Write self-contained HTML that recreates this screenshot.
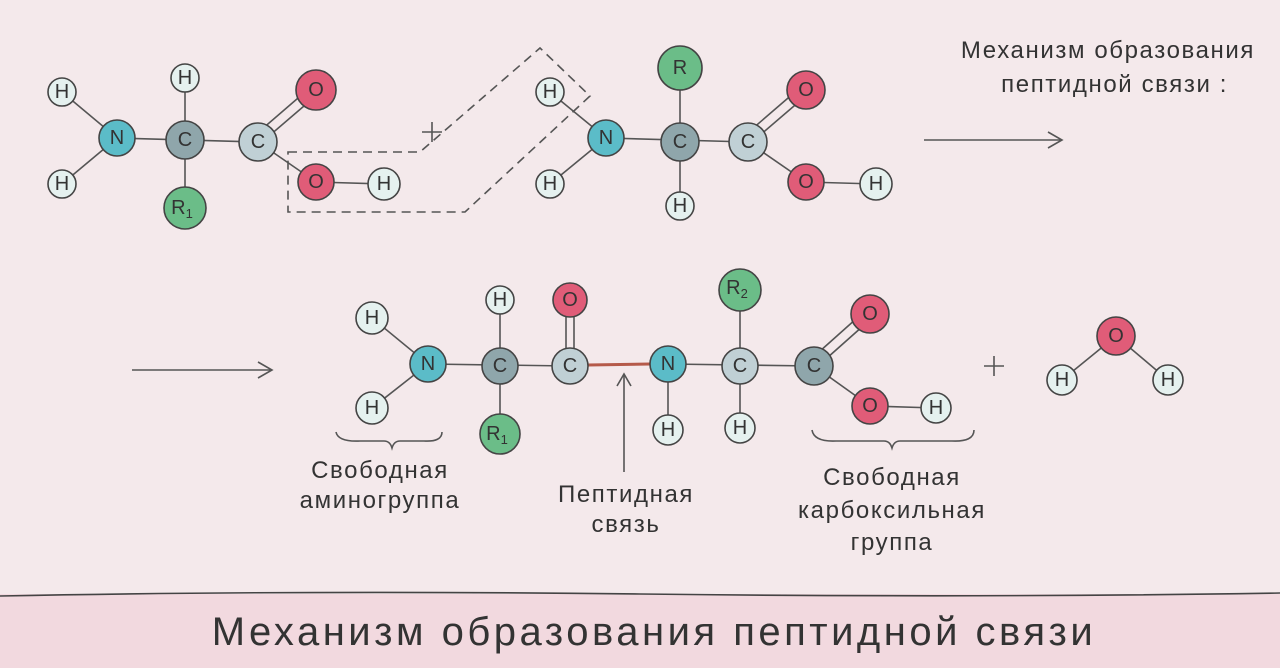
<!DOCTYPE html>
<html><head><meta charset="utf-8"><style>
html,body{margin:0;padding:0;background:#f4e9eb}
svg{display:block}
text{font-family:"Liberation Sans","DejaVu Sans",sans-serif;fill:#333}
.a text{text-anchor:middle;dominant-baseline:central}
</style></head><body>
<svg width="1280" height="668" viewBox="0 0 1280 668" xmlns="http://www.w3.org/2000/svg">
<rect width="1280" height="668" fill="#f4e9eb"/>
<rect y="594" width="1280" height="74" fill="#f2d9df"/>
<path d="M0 596 Q300 590 640 594 T1280 593" stroke="#444" stroke-width="1.6" fill="none"/>
<text x="654" y="645" font-size="40" letter-spacing="3.5" text-anchor="middle" fill="#333">Механизм образования пептидной связи</text>

<g stroke="#555" stroke-width="1.6" fill="none">
<line x1="62" y1="92" x2="117" y2="138"/><line x1="62" y1="184" x2="117" y2="138"/>
<line x1="117" y1="138" x2="258" y2="142"/><line x1="185" y1="78" x2="185" y2="208"/>
<line x1="254" y1="136" x2="312" y2="86"/><line x1="262" y1="142" x2="318" y2="94"/>
<line x1="258" y1="142" x2="316" y2="182"/><line x1="316" y1="182" x2="384" y2="184"/>
<line x1="550" y1="92" x2="606" y2="138"/><line x1="550" y1="184" x2="606" y2="138"/>
<line x1="606" y1="138" x2="748" y2="142"/><line x1="680" y1="68" x2="680" y2="206"/>
<line x1="744" y1="136" x2="802" y2="86"/><line x1="752" y1="142" x2="808" y2="94"/>
<line x1="748" y1="142" x2="806" y2="182"/><line x1="806" y1="182" x2="876" y2="184"/>
<path d="M288 152 L420 152 L540 48 L590 96 L465 212 L288 212 Z" stroke-dasharray="9 6"/>
<line x1="432" y1="122" x2="432" y2="142"/><line x1="422" y1="132" x2="442" y2="132"/>
<line x1="924" y1="140" x2="1062" y2="140"/><path d="M1048 132 L1062 140 L1048 148"/>
<line x1="132" y1="370" x2="272" y2="370"/><path d="M258 362 L272 370 L258 378"/>
<line x1="372" y1="318" x2="428" y2="364"/><line x1="372" y1="408" x2="428" y2="364"/>
<line x1="428" y1="364" x2="570" y2="366"/><line x1="500" y1="300" x2="500" y2="434"/>
<line x1="566" y1="300" x2="566" y2="366"/><line x1="574" y1="300" x2="574" y2="366"/>
<line x1="668" y1="364" x2="814" y2="366"/><line x1="740" y1="290" x2="740" y2="428"/>
<line x1="668" y1="364" x2="668" y2="430"/>
<line x1="810" y1="360" x2="866" y2="310"/><line x1="818" y1="366" x2="872" y2="318"/>
<line x1="814" y1="366" x2="870" y2="406"/><line x1="870" y1="406" x2="936" y2="408"/>
<line x1="1116" y1="336" x2="1062" y2="380"/><line x1="1116" y1="336" x2="1168" y2="380"/>
<line x1="994" y1="356" x2="994" y2="376"/><line x1="984" y1="366" x2="1004" y2="366"/>
<line x1="624" y1="472" x2="624" y2="374"/><path d="M617 386 L624 374 L631 386"/>
<path d="M336 432 Q338 442 360 441 L384 441 Q390 441 392 448 Q394 441 400 441 L424 441 Q442 442 442 432"/>
<path d="M812 430 Q814 442 836 441 L884 441 Q890 441 892 448 Q894 441 900 441 L952 441 Q974 442 974 430"/>
</g>
<line x1="588" y1="365" x2="650" y2="364" stroke="#b55a4a" stroke-width="3"/>

<g class="a" stroke="#444" stroke-width="1.6">
<g fill="#e5f1ef"><circle cx="62" cy="92" r="14"/><circle cx="62" cy="184" r="14"/><circle cx="185" cy="78" r="14"/><circle cx="384" cy="184" r="16"/>
<circle cx="550" cy="92" r="14"/><circle cx="550" cy="184" r="14"/><circle cx="680" cy="206" r="14"/><circle cx="876" cy="184" r="16"/>
<circle cx="372" cy="318" r="16"/><circle cx="372" cy="408" r="16"/><circle cx="500" cy="300" r="14"/><circle cx="668" cy="430" r="15"/><circle cx="740" cy="428" r="15"/><circle cx="936" cy="408" r="15"/>
<circle cx="1062" cy="380" r="15"/><circle cx="1168" cy="380" r="15"/></g>
<g fill="#5bbcc8"><circle cx="117" cy="138" r="18"/><circle cx="606" cy="138" r="18"/><circle cx="428" cy="364" r="18"/><circle cx="668" cy="364" r="18"/></g>
<g fill="#8fa6ab"><circle cx="185" cy="140" r="19"/><circle cx="680" cy="142" r="19"/><circle cx="500" cy="366" r="18"/><circle cx="814" cy="366" r="19"/></g>
<g fill="#c0d0d5"><circle cx="258" cy="142" r="19"/><circle cx="748" cy="142" r="19"/><circle cx="570" cy="366" r="18"/><circle cx="740" cy="366" r="18"/></g>
<g fill="#e05c78"><circle cx="316" cy="90" r="20"/><circle cx="316" cy="182" r="18"/><circle cx="806" cy="90" r="19"/><circle cx="806" cy="182" r="18"/>
<circle cx="570" cy="300" r="17"/><circle cx="870" cy="314" r="19"/><circle cx="870" cy="406" r="18"/><circle cx="1116" cy="336" r="19"/></g>
<g fill="#6bbd88"><circle cx="185" cy="208" r="21"/><circle cx="680" cy="68" r="22"/><circle cx="500" cy="434" r="20"/><circle cx="740" cy="290" r="21"/></g>
</g>
<g class="a" font-size="20">
<text x="62" y="92">H</text><text x="62" y="184">H</text><text x="185" y="78">H</text><text x="384" y="184">H</text>
<text x="550" y="92">H</text><text x="550" y="184">H</text><text x="680" y="206">H</text><text x="876" y="184">H</text>
<text x="372" y="318">H</text><text x="372" y="408">H</text><text x="500" y="300">H</text><text x="668" y="430">H</text><text x="740" y="428">H</text><text x="936" y="408">H</text>
<text x="1062" y="380">H</text><text x="1168" y="380">H</text>
<text x="117" y="138">N</text><text x="606" y="138">N</text><text x="428" y="364">N</text><text x="668" y="364">N</text>
<text x="185" y="140">C</text><text x="680" y="142">C</text><text x="500" y="366">C</text><text x="814" y="366">C</text>
<text x="258" y="142">C</text><text x="748" y="142">C</text><text x="570" y="366">C</text><text x="740" y="366">C</text>
<text x="316" y="90">O</text><text x="316" y="182">O</text><text x="806" y="90">O</text><text x="806" y="182">O</text>
<text x="570" y="300">O</text><text x="870" y="314">O</text><text x="870" y="406">O</text><text x="1116" y="336">O</text>
<text x="680" y="68">R</text>
<text x="182" y="208">R<tspan font-size="13" dy="5">1</tspan></text>
<text x="497" y="434">R<tspan font-size="13" dy="5">1</tspan></text>
<text x="737" y="288">R<tspan font-size="13" dy="5">2</tspan></text>
</g>
<g font-size="24" letter-spacing="1.6">
<text x="1255" y="58" text-anchor="end">Механизм образования</text>
<text x="1228" y="92" text-anchor="end">пептидной связи :</text>
</g>
<g font-size="24" letter-spacing="1.6" text-anchor="middle">
<text x="380" y="478">Свободная</text><text x="380" y="508">аминогруппа</text>
<text x="626" y="502">Пептидная</text><text x="626" y="532">связь</text>
<text x="892" y="485">Свободная</text><text x="892" y="518">карбоксильная</text><text x="892" y="550">группа</text>
</g>
</svg>
</body></html>
